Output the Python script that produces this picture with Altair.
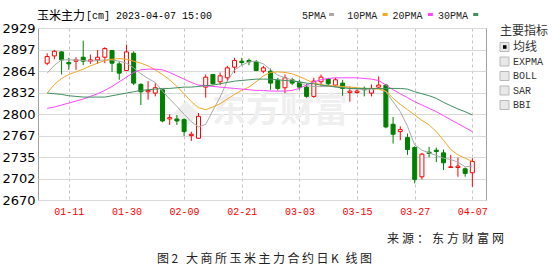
import altair as alt
import pandas as pd

# ---------------- data ----------------
dates = ["01-06","01-09","01-10","01-11","01-12","01-13","01-16","01-17","01-18","01-19",
         "01-20","01-30","01-31","02-01","02-02","02-03","02-06","02-07","02-08","02-09",
         "02-10","02-13","02-14","02-15","02-16","02-17","02-20","02-21","02-22","02-23",
         "02-24","02-27","02-28","03-01","03-02","03-03","03-06","03-07","03-08","03-09",
         "03-10","03-13","03-14","03-15","03-16","03-17","03-20","03-21","03-22","03-23",
         "03-24","03-27","03-28","03-29","03-30","03-31","04-03","04-04","04-06","04-07"]

opens = [2876,2887,2893,2877,2879,2885,2879,2881,2885,2895,
         2875,2865,2891,2844,2833,2831,2836,2792,2792,2791,
         2767,2763,2840,2859,2848,2854,2870,2879,2880,2878,
         2864,2864,2850,2839,2851,2847,2840,2826,2848,2852,
         2843,2846,2832,2832,2838,2831,2840,2843,2784,2773,
         2764,2749,2705,2742,2745,2741,2719,2719,2717,2711]
highs = [2891,2896,2894,2884,2885,2910,2889,2896,2900,2896,
         2879,2904,2894,2846,2849,2846,2837,2799,2798,2793,
         2773,2801,2859,2860,2862,2872,2884,2884,2883,2881,
         2872,2868,2854,2859,2854,2851,2845,2854,2859,2854,
         2854,2851,2841,2837,2841,2844,2856,2845,2795,2781,
         2770,2751,2741,2750,2749,2746,2738,2734,2719,2733]
lows = [2873,2882,2859,2866,2866,2873,2875,2875,2876,2863,
        2851,2864,2843,2813,2821,2826,2787,2783,2783,2766,
        2759,2762,2824,2844,2843,2848,2861,2873,2873,2864,
        2861,2836,2835,2831,2843,2836,2824,2824,2842,2842,
        2840,2827,2818,2830,2826,2826,2838,2778,2755,2760,
        2738,2695,2701,2734,2727,2715,2719,2705,2705,2690]
closes = [2886,2894,2881,2875,2881,2879,2881,2885,2898,2876,
          2861,2893,2846,2833,2835,2839,2789,2794,2789,2773,
          2769,2796,2855,2845,2857,2869,2880,2877,2878,2865,
          2869,2846,2838,2854,2846,2840,2826,2849,2855,2845,
          2851,2838,2834,2834,2836,2838,2843,2780,2769,2776,
          2746,2701,2739,2740,2743,2726,2720,2721,2710,2728]

ma5 = [2861,2873,2881,2881,2881,2880,2879,2880,2881,2881,
       2879,2876,2869,2860,2853,2847,2834,2822,2811,2799,
       2788,2780,2784,2805,2825,2849,2866,2873,2878,2879,
       2875,2866,2858,2854,2851,2847,2842,2841,2841,2841,
       2841,2840,2838,2837,2836,2836,2838,2833,2818,2803,
       2781,2753,2745,2741,2737,2733,2731,2727,2720,2721]
ma10 = [2831,2844,2853,2859,2863,2867,2872,2876,2880,2882,
        2883,2882,2879,2876,2872,2866,2859,2851,2841,2830,
        2818,2809,2806,2810,2815,2822,2829,2835,2840,2848,
        2857,2862,2863,2862,2860,2856,2851,2846,2844,2842,
        2842,2841,2840,2839,2838,2838,2837,2834,2823,2814,
        2806,2798,2790,2783,2773,2760,2746,2738,2733,2728]
ma20 = [2808,2810,2813,2816,2819,2822,2826,2830,2835,2841,
        2848,2855,2862,2866,2867,2867,2866,2862,2857,2852,
        2847,2843,2842,2841,2840,2839,2838,2837,2836,2835,
        2835,2834,2834,2834,2835,2838,2843,2848,2851,2853,
        2854,2854,2854,2854,2853,2852,2850,2843,2836,2830,
        2824,2818,2813,2808,2803,2797,2791,2785,2779,2773]
ma30 = [2831,2830,2829,2827,2826,2825,2825,2825,2825,2827,
        2829,2831,2833,2835,2836,2837,2838,2838,2839,2840,
        2840,2841,2842,2843,2845,2847,2849,2850,2851,2852,
        2852,2852,2851,2850,2849,2848,2846,2845,2843,2842,
        2840,2839,2838,2838,2838,2838,2838,2838,2838,2838,
        2837,2833,2830,2827,2823,2817,2812,2807,2803,2798]

ma_names = ["5PMA", "10PMA", "20PMA", "30PMA"]
ma_series = [ma5, ma10, ma20, ma30]
ma_colors = ["#a9a9a9", "#f5a623", "#ff44ff", "#3f8f60"]

y_ticks = [2670, 2702.375, 2734.75, 2767.125, 2799.5, 2831.875, 2864.25, 2896.625, 2929]
x_label_idx = [3, 11, 19, 27, 35, 43, 51, 59]

title_cn = "玉米主力"
title_rest = "[cm] 2023-04-07 15:00"
panel_title = "主要指标"
indicators = ["均线", "EXPMA", "BOLL", "SAR", "BBI"]
source_text = "来源：东方财富网"
caption_text = "图2大商所玉米主力合约日K线图"
watermark = "东方财富"

# ---------------- build ----------------
CJK = "Noto Sans CJK SC"
MONO = "Liberation Mono"

n = len(dates)
df = pd.DataFrame({
    "i": list(range(n)), "date": dates, "open": opens, "high": highs,
    "low": lows, "close": closes,
})
df["dir"] = ["up" if c >= o else "down" for o, c in zip(opens, closes)]

x_scale = alt.Scale(domain=[-0.58, 60.2], nice=False, zero=False)
y_scale = alt.Scale(domain=[2670, 2929], nice=False, zero=False)
label_expr = "[" + ",".join("'%s'" % d for d in dates) + "][datum.value]"

x_axis = alt.Axis(values=x_label_idx, labelExpr=label_expr, title=None, grid=True,
                  gridDash=[3, 3], gridColor="#c4c4c4", ticks=False, domain=False,
                  labelColor="#ff0000", labelFont=MONO, labelFontSize=10,
                  labelPadding=6, labelFlush=False, labelOverlap=False)
y_axis = alt.Axis(values=y_ticks, format=".0f", title=None, grid=True,
                  gridColor="#d9d9d9", ticks=False, domain=False, labelColor="#000000",
                  labelFont="DejaVu Sans", labelFontSize=13, labelPadding=3,
                  labelFlush=False, labelOverlap=False)


def X(field="i"):
    return alt.X(f"{field}:Q", scale=x_scale, axis=x_axis)


def Y(field):
    return alt.Y(f"{field}:Q", scale=y_scale, axis=y_axis)


dir_stroke = alt.Stroke("dir:N", scale=alt.Scale(domain=["up", "down"], range=["#ff0000", "#008000"]), legend=None)
dir_fill = alt.Fill("dir:N", scale=alt.Scale(domain=["up", "down"], range=["#ffffff", "#008000"]), legend=None)

base = alt.Chart(df)

layers = []


def txt(s, x, y, size=12, font=CJK, color="#000000", align="left", weight="normal", opacity=1.0):
    return alt.Chart(pd.DataFrame({"t": [s]})).mark_text(
        align=align, baseline="middle", font=font, fontSize=size, color=color,
        fontWeight=weight, opacity=opacity
    ).encode(x=alt.value(x), y=alt.value(y), text="t:N")


# watermark
layers.append(alt.Chart(pd.DataFrame({"t": ["a"]})).mark_point(
    shape="diamond", filled=True, size=700, color="#eeeeee", opacity=1
).encode(x=alt.value(148), y=alt.value(86)))
layers.append(txt(watermark, 242, 84, size=34, color="#efefef", align="center", weight="bold"))

# candles
layers.append(base.mark_rule(strokeWidth=1).encode(x=X(), y=Y("low"), y2="high", stroke=dir_stroke))
layers.append(base.mark_bar(size=4, orient="vertical", strokeWidth=1).encode(
    x=X(), y=Y("open"), y2="close", fill=dir_fill, stroke=dir_stroke))

# moving averages
for name, vals, col in zip(ma_names, ma_series, ma_colors):
    mdf = pd.DataFrame({"i": list(range(n)), "v": vals})
    layers.append(alt.Chart(mdf).mark_line(strokeWidth=1, color=col).encode(x=X(), y=Y("v")))

# header
layers.append(txt(title_cn, -1, -12, size=12))
layers.append(txt(title_rest, 48, -12, size=10, font=MONO))
for k, (name, col) in enumerate(zip(ma_names, ma_colors)):
    x0 = 264 + 45.3 * k
    layers.append(txt(name, x0, -12.5, size=10, font=MONO, color="#222222"))
    sx = x0 + 27 + (2 if k else 0) + 6.3 * (len(name) - 4)
    layers.append(alt.Chart(pd.DataFrame({"t": ["a"]})).mark_rect(color=col).encode(
        x=alt.value(sx), x2=alt.value(sx + 5), y=alt.value(-15), y2=alt.value(-12)))

# right panel
layers.append(txt(panel_title, 462, 3, size=12, color="#333333"))
for k, name in enumerate(indicators):
    cy = 19 + 14.5 * k
    layers.append(alt.Chart(pd.DataFrame({"t": ["a"]})).mark_rect(
        fill="#e8e8e8", stroke="#b9b9b9", strokeWidth=1).encode(
        x=alt.value(462), x2=alt.value(471), y=alt.value(cy - 4.5), y2=alt.value(cy + 4.5)))
    if k == 0:
        layers.append(alt.Chart(pd.DataFrame({"t": ["a"]})).mark_rect(color="#000000").encode(
            x=alt.value(465), x2=alt.value(468.5), y=alt.value(cy - 1.8), y2=alt.value(cy + 1.8)))
        layers.append(txt(name, 475, cy, size=12, color="#333333"))
    else:
        layers.append(txt(name, 475, cy, size=10, font=MONO, color="#333333"))

# footer
for k, ch in enumerate(source_text):
    layers.append(txt(ch, 349 + 15 * k, 211, size=12, color="#222222"))
for k, ch in enumerate(caption_text):
    layers.append(txt(ch, 119 + 14.5 * k, 230.5, size=12, color="#222222"))

chart = alt.layer(*layers).properties(
    width=448, height=172,
    padding={"left": 38, "top": 28, "right": 66, "bottom": 71},
    autosize=alt.AutoSizeParams(type="none"),
    background="white",
).configure_view(stroke="#a0a0a0", strokeWidth=1)

chart.save("out.html", embed_options={"renderer": "svg", "actions": False})
